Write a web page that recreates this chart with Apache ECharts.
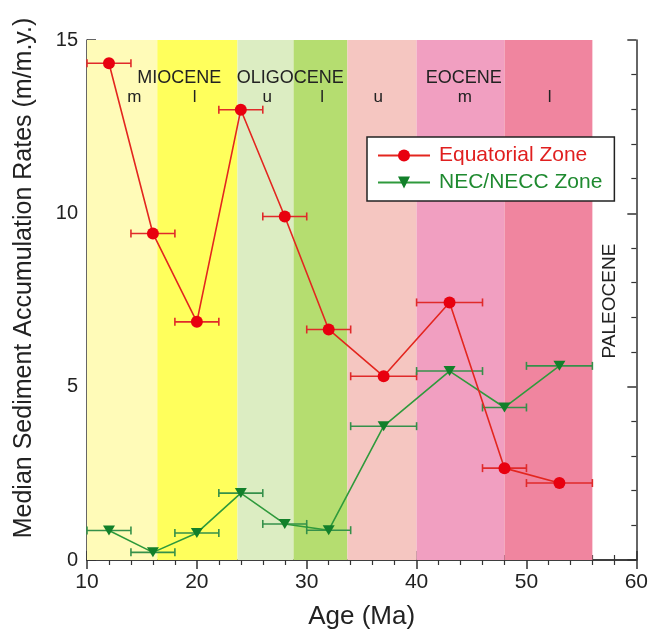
<!DOCTYPE html>
<html>
<head>
<meta charset="utf-8">
<script src="https://cdn.jsdelivr.net/npm/echarts@6/dist/echarts.min.js"></script>
<style>
  html, body { margin: 0; padding: 0; background: #fff; }
  #chart { width: 651px; height: 635px; }
</style>
</head>
<body>
<div id="chart"></div>
<script>
// ages (Ma) of the sample bins and their half widths
const ages = [12, 16, 20, 24, 28, 32, 37, 43, 48, 53];
const ageHalfWidth = [2, 2, 2, 2, 2, 2, 3, 3, 2, 3];
const equatorialRates = [14.33, 9.42, 6.87, 12.99, 9.91, 6.65, 5.3, 7.43, 2.65, 2.22];
const necRates = [0.85, 0.22, 0.78, 1.93, 1.04, 0.86, 3.86, 5.45, 4.4, 5.6];

// stratigraphic intervals (Ma)
const bandStart = [10, 16.4, 23.7, 28.8, 33.7, 40, 48];
const bandEnd = [16.4, 23.7, 28.8, 33.7, 40, 48, 56];
const bandColors = ["#fffbb8", "#ffff5c", "#dcedc2", "#b5dd70", "#f5c6c1", "#f19fc1", "#f0859f"];

// epoch / sub-epoch annotations
const epochNames = ["MIOCENE", "OLIGOCENE", "EOCENE"];
const epochAges = [18.4, 28.5, 44.3];
const subNames = ["m", "l", "u", "l", "u", "m", "l"];
const subAges = [14.3, 19.8, 26.4, 31.4, 36.5, 44.4, 52.1];

const FONT = "'Liberation Sans', Arial, Helvetica, sans-serif";
const AXIS = "#333";

const chart = echarts.init(document.getElementById("chart"), null, { renderer: "canvas" });

function errData(rates) {
  return ages.map((a, i) => [a - ageHalfWidth[i], a + ageHalfWidth[i], rates[i]]);
}

function errorBars(color) {
  return function (params, api) {
    const lo = api.coord([api.value(0), api.value(2)]);
    const hi = api.coord([api.value(1), api.value(2)]);
    const cap = 4;
    const style = { stroke: color, lineWidth: 1.6 };
    return {
      type: "group",
      children: [
        { type: "line", shape: { x1: lo[0], y1: lo[1], x2: hi[0], y2: hi[1] }, style: style },
        { type: "line", shape: { x1: lo[0], y1: lo[1] - cap, x2: lo[0], y2: lo[1] + cap }, style: style },
        { type: "line", shape: { x1: hi[0], y1: hi[1] - cap, x2: hi[0], y2: hi[1] + cap }, style: style }
      ]
    };
  };
}

const labelData = [];
epochNames.forEach((n, i) => labelData.push([epochAges[i], 13.9, n, 18, 0]));
subNames.forEach((n, i) => labelData.push([subAges[i], 13.35, n, 17, 0]));
labelData.push([57.6, 7.47, "PALEOCENE", 19, 1]);

const tickCommon = {
  axisLine: { lineStyle: { color: AXIS, width: 1.5 } },
  axisTick: { inside: true, length: 9, lineStyle: { color: AXIS, width: 1.5 } },
  minorTick: { show: true, splitNumber: 5, length: 5, lineStyle: { color: AXIS, width: 1.2 } },
  splitLine: { show: false },
  minorSplitLine: { show: false }
};

const option = {
  animation: false,
  textStyle: { fontFamily: FONT },
  grid: { left: 87, right: 12, top: 40, bottom: 73 },
  xAxis: [
    Object.assign({
      type: "value", min: 10, max: 60, interval: 10, position: "bottom",
      axisLabel: { fontSize: 21, color: "#222", margin: 12, fontFamily: FONT },
      name: "Age (Ma)", nameLocation: "middle", nameGap: 44,
      nameTextStyle: { fontSize: 26, color: "#222", fontFamily: FONT }
    }, tickCommon),
    Object.assign({
      type: "value", min: 10, max: 60, interval: 10, position: "top",
      axisLabel: { show: false }
    }, tickCommon)
  ],
  yAxis: [
    Object.assign({
      type: "value", min: 0, max: 15, interval: 5, position: "left",
      axisLabel: { fontSize: 20, color: "#222", margin: 9, fontFamily: FONT }
    }, tickCommon),
    Object.assign({
      type: "value", min: 0, max: 15, interval: 5, position: "right",
      axisLabel: { show: false }
    }, tickCommon)
  ],
  legend: {
    orient: "vertical",
    left: 367, top: 137,
    backgroundColor: "#fff",
    borderColor: "#222", borderWidth: 1.5, borderRadius: 0,
    padding: [8, 12, 8, 10],
    itemWidth: 52, itemHeight: 15, itemGap: 6,
    textStyle: { fontSize: 21, fontFamily: FONT, padding: [0, 0, 0, 4] },
    data: [
      { name: "Equatorial Zone", textStyle: { color: "#e01f1f" } },
      { name: "NEC/NECC Zone", textStyle: { color: "#1f8a30" } }
    ]
  },
  graphic: [{
    type: "text", x: 24, y: 278, rotation: Math.PI / 2,
    style: {
      text: "Median Sediment Accumulation Rates (m/m.y.)",
      fontSize: 25, fontFamily: FONT, fill: "#222",
      align: "center", verticalAlign: "middle"
    }
  }],
  series: [
    {
      type: "custom", name: "bands", z: 1, silent: true,
      data: bandStart.map((s, i) => [s, bandEnd[i]]),
      renderItem: function (params, api) {
        const a = api.coord([api.value(0), 15]);
        const b = api.coord([api.value(1), 0]);
        return {
          type: "rect",
          shape: { x: a[0], y: a[1], width: b[0] - a[0], height: b[1] - a[1] },
          style: { fill: bandColors[params.dataIndex] }
        };
      }
    },
    {
      type: "custom", name: "labels", z: 2, silent: true,
      data: labelData.map(d => [d[0], d[1]]),
      renderItem: function (params, api) {
        const d = labelData[params.dataIndex];
        const p = api.coord([api.value(0), api.value(1)]);
        return {
          type: "text", x: p[0], y: p[1], rotation: d[4] ? Math.PI / 2 : 0,
          style: {
            text: d[2], fontSize: d[3], fontFamily: FONT, fill: "#222",
            align: "center", verticalAlign: "middle"
          }
        };
      }
    },
    {
      type: "custom", name: "eqErr", z: 3, silent: true,
      data: errData(equatorialRates), renderItem: errorBars("#e02a2a")
    },
    {
      type: "custom", name: "necErr", z: 3, silent: true,
      data: errData(necRates), renderItem: errorBars("#35904a")
    },
    {
      type: "line", name: "NEC/NECC Zone", z: 4,
      data: ages.map((a, i) => [a, necRates[i]]),
      symbol: "triangle", symbolRotate: 180, symbolSize: [12, 10],
      lineStyle: { color: "#2f9a3c", width: 1.6 },
      itemStyle: { color: "#12802a", borderWidth: 0 }
    },
    {
      type: "line", name: "Equatorial Zone", z: 5,
      data: ages.map((a, i) => [a, equatorialRates[i]]),
      symbol: "circle", symbolSize: 12,
      lineStyle: { color: "#e3261f", width: 1.6 },
      itemStyle: { color: "#e8000f", borderWidth: 0 }
    }
  ]
};

chart.setOption(option);
</script>
</body>
</html>
